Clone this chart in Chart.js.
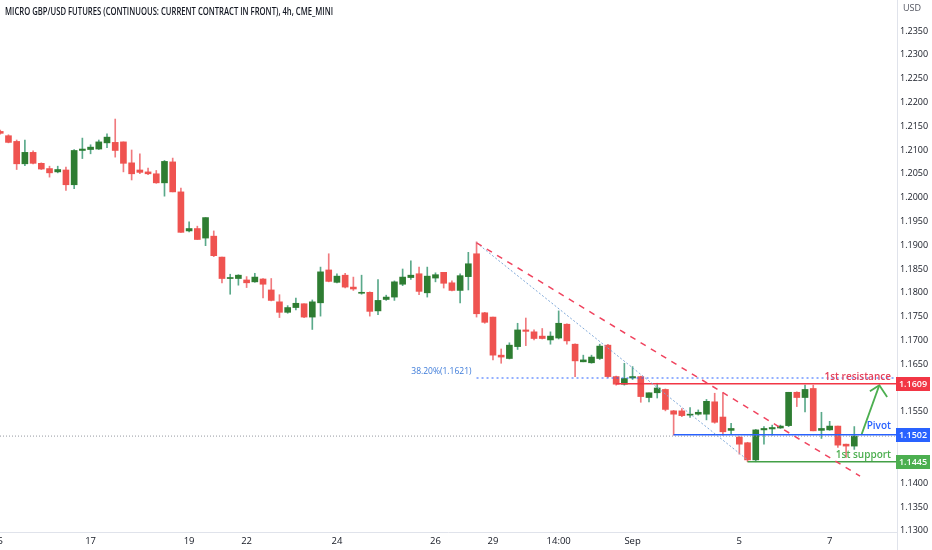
<!DOCTYPE html>
<html lang="en">
<head>
    <meta charset="UTF-8">
    <title>Micro GBP/USD Futures 4h</title>
    <script src="https://cdn.jsdelivr.net/npm/chart.js"></script>
    <style>
        html, body { margin: 0; padding: 0; background: #fff; }
        #wrap { width: 932px; height: 550px; }
    </style>
</head>
<body>
<div id="wrap"><canvas id="chart" width="932" height="550"></canvas></div>
<script>
    // 4h candles (index 0 is the half-cut one at the left edge)
    const openP  = [1.2139, 1.2130, 1.2118, 1.2071, 1.2095, 1.2072, 1.2061, 1.2054, 1.2058, 1.2027,
                    1.2099, 1.2101, 1.2102, 1.2115, 1.2116, 1.2117, 1.2073, 1.2058, 1.2054, 1.2050,
                    1.2031, 1.2075, 1.2012, 1.1930, 1.1935, 1.1915, 1.1919, 1.1875, 1.1830, 1.1830,
                    1.1827, 1.1823, 1.1829, 1.1806, 1.1781, 1.1759, 1.1769, 1.1777, 1.1749, 1.1779,
                    1.1848, 1.1822, 1.1837, 1.1812, 1.1799, 1.1801, 1.1762, 1.1786, 1.1791, 1.1818,
                    1.1832, 1.1840, 1.1800, 1.1831, 1.1843, 1.1821, 1.1805, 1.1834, 1.1882, 1.1758,
                    1.1749, 1.1669, 1.1662, 1.1687, 1.1722, 1.1718, 1.1709, 1.1701, 1.1705, 1.1734,
                    1.1692, 1.1655, 1.1653, 1.1662, 1.1690, 1.1624, 1.1608, 1.1621, 1.1624, 1.1580,
                    1.1590, 1.1597, 1.1552, 1.1552, 1.1543, 1.1545, 1.1545, 1.1571, 1.1539, 1.1511,
                    1.1497, 1.1485, 1.1449, 1.1512, 1.1514, 1.1516, 1.1521, 1.1591, 1.1580, 1.1599,
                    1.1511, 1.1512, 1.1520, 1.1482, 1.1478];
    const highP  = [1.2142, 1.2132, 1.2121, 1.2121, 1.2098, 1.2073, 1.2066, 1.2066, 1.2064, 1.2101,
                    1.2125, 1.2111, 1.2121, 1.2134, 1.2165, 1.2117, 1.2100, 1.2092, 1.2062, 1.2057,
                    1.2078, 1.2083, 1.2020, 1.1949, 1.1940, 1.1958, 1.1930, 1.1875, 1.1839, 1.1838,
                    1.1834, 1.1841, 1.1830, 1.1830, 1.1796, 1.1773, 1.1789, 1.1777, 1.1785, 1.1854,
                    1.1882, 1.1840, 1.1841, 1.1833, 1.1837, 1.1802, 1.1828, 1.1795, 1.1825, 1.1850,
                    1.1867, 1.1854, 1.1854, 1.1842, 1.1843, 1.1825, 1.1840, 1.1885, 1.1907, 1.1759,
                    1.1749, 1.1682, 1.1695, 1.1736, 1.1747, 1.1722, 1.1725, 1.1718, 1.1762, 1.1735,
                    1.1693, 1.1669, 1.1669, 1.1692, 1.1692, 1.1625, 1.1652, 1.1645, 1.1625, 1.1590,
                    1.1610, 1.1598, 1.1553, 1.1557, 1.1559, 1.1554, 1.1576, 1.1589, 1.1590, 1.1526,
                    1.1498, 1.1486, 1.1513, 1.1519, 1.1522, 1.1522, 1.1591, 1.1592, 1.1606, 1.1606,
                    1.1549, 1.1530, 1.1520, 1.1482, 1.1519];
    const lowP   = [1.2133, 1.2115, 1.2059, 1.2067, 1.2071, 1.2059, 1.2043, 1.2052, 1.2015, 1.2019,
                    1.2082, 1.2092, 1.2101, 1.2105, 1.2085, 1.2054, 1.2037, 1.2050, 1.2048, 1.2030,
                    1.2003, 1.2012, 1.1927, 1.1928, 1.1912, 1.1899, 1.1876, 1.1821, 1.1797, 1.1816,
                    1.1811, 1.1822, 1.1789, 1.1783, 1.1748, 1.1757, 1.1764, 1.1748, 1.1723, 1.1751,
                    1.1823, 1.1821, 1.1810, 1.1805, 1.1797, 1.1751, 1.1754, 1.1784, 1.1784, 1.1815,
                    1.1828, 1.1796, 1.1791, 1.1823, 1.1810, 1.1804, 1.1779, 1.1806, 1.1749, 1.1736,
                    1.1659, 1.1652, 1.1661, 1.1681, 1.1689, 1.1701, 1.1703, 1.1692, 1.1703, 1.1692,
                    1.1624, 1.1655, 1.1652, 1.1660, 1.1622, 1.1606, 1.1606, 1.1618, 1.1570, 1.1571,
                    1.1579, 1.1552, 1.1501, 1.1540, 1.1538, 1.1543, 1.1533, 1.1526, 1.1501, 1.1503,
                    1.1461, 1.1445, 1.1445, 1.1482, 1.1501, 1.1515, 1.1519, 1.1561, 1.1550, 1.1510,
                    1.1494, 1.1511, 1.1475, 1.1454, 1.1471];
    const closeP = [1.2135, 1.2116, 1.2071, 1.2095, 1.2072, 1.2060, 1.2052, 1.2059, 1.2027, 1.2099,
                    1.2102, 1.2106, 1.2117, 1.2127, 1.2099, 1.2072, 1.2050, 1.2053, 1.2050, 1.2031,
                    1.2076, 1.2012, 1.1927, 1.1935, 1.1912, 1.1958, 1.1878, 1.1830, 1.1831, 1.1837,
                    1.1821, 1.1833, 1.1818, 1.1784, 1.1759, 1.1769, 1.1778, 1.1749, 1.1781, 1.1844,
                    1.1824, 1.1835, 1.1812, 1.1808, 1.1800, 1.1761, 1.1784, 1.1791, 1.1823, 1.1833,
                    1.1837, 1.1803, 1.1835, 1.1838, 1.1820, 1.1805, 1.1836, 1.1861, 1.1756, 1.1738,
                    1.1669, 1.1665, 1.1690, 1.1722, 1.1719, 1.1704, 1.1704, 1.1709, 1.1736, 1.1699,
                    1.1657, 1.1659, 1.1665, 1.1688, 1.1624, 1.1608, 1.1620, 1.1624, 1.1582, 1.1590,
                    1.1600, 1.1555, 1.1545, 1.1542, 1.1545, 1.1549, 1.1572, 1.1528, 1.1508, 1.1515,
                    1.1482, 1.1449, 1.1512, 1.1515, 1.1517, 1.1520, 1.1591, 1.1580, 1.1597, 1.1510,
                    1.1515, 1.1520, 1.1480, 1.1478, 1.1499];

    // time axis labels sit on these candle indices
    const tickIdx  = [0, 11, 23, 30, 41, 53, 60, 68, 77, 90, 101];
    const tickText = ['5', '17', '19', '22', '24', '26', '29', '14:00', 'Sep', '5', '7'];

    // levels drawn on the chart
    const resistance = 1.1609;
    const pivot = 1.1502;
    const support = 1.1445;
    const fib382 = 1.1621;
    const levelStart = { resistance: 75, pivot: 82, support: 91, fib: 58 };

    // trend lines and the arrow, as [candle index, price]
    const redTrend  = [[58, 1.1905], [104.7, 1.1415]];
    const blueTrend = [[58, 1.1905], [91, 1.1449]];
    const arrowShaft = [[104.9, 1.1503], [107.05, 1.1606]];
    const arrowHead  = [[105.9, 1.1593], [107.05, 1.1606], [108.0, 1.1581]];

    const X_MIN = -0.03, X_MAX = 109.2;
    const Y_MIN = 1.12975, Y_MAX = 1.24151;

    const GREEN = '#2e7d32', GREEN_WICK = '#5aa98a';
    const RED = '#ef5350', RED_WICK = '#f07a7e';

    const up = openP.map((o, i) => closeP[i] >= o);
    const pts = arr => arr.map(p => ({ x: p[0], y: p[1] }));
    const hLine = (from, y) => [{ x: from, y: y }, { x: X_MAX, y: y }];

    function lineSet(data, color, width, dash) {
        return {
            type: 'line', data: data, borderColor: color, borderWidth: width,
            borderDash: dash || [], pointRadius: 0, fill: false, tension: 0, order: 0
        };
    }

    // texts, price tags and separators drawn over the chart
    const overlay = {
        id: 'overlay',
        afterDraw(chart) {
            const ctx = chart.ctx, a = chart.chartArea;
            const xs = chart.scales.x, ys = chart.scales.y;
            ctx.save();
            ctx.strokeStyle = '#e0e3eb';
            ctx.lineWidth = 1;
            ctx.beginPath();
            ctx.moveTo(a.right + 0.5, 0); ctx.lineTo(a.right + 0.5, 550);
            ctx.moveTo(0, a.bottom + 0.5); ctx.lineTo(a.right, a.bottom + 0.5);
            ctx.stroke();

            ctx.fillStyle = '#131722';
            ctx.font = '600 10px "Open Sans"';
            ctx.textBaseline = 'middle';
            ctx.textAlign = 'left';
            ctx.fillText('MICRO GBP/USD FUTURES (CONTINUOUS: CURRENT CONTRACT IN FRONT), 4h, CME_MINI', 5, 12, 328);

            ctx.fillStyle = '#50535e';
            ctx.font = '9px "Open Sans"';
            ctx.fillText('USD', a.right + 6, 8);

            ctx.textAlign = 'right';
            ctx.font = '8.5px "Open Sans"';
            ctx.fillStyle = '#3d7bd9';
            ctx.fillText('38.20%(' + fib382.toFixed(4) + ')', xs.getPixelForValue(levelStart.fib) - 5, ys.getPixelForValue(fib382) - 6);

            ctx.font = '600 10px "Open Sans"';
            ctx.fillStyle = '#e5405a';
            ctx.fillText('1st resistance', a.right - 6, ys.getPixelForValue(resistance) - 7);
            ctx.fillStyle = '#2962ff';
            ctx.fillText('Pivot', a.right - 6, ys.getPixelForValue(pivot) - 8);
            ctx.fillStyle = '#4caf50';
            ctx.fillText('1st support', a.right - 6, ys.getPixelForValue(support) - 7);

            const tags = [[resistance, '#f23645'], [pivot, '#2962ff'], [support, '#4caf50']];
            ctx.textAlign = 'center';
            ctx.font = '600 9px "Open Sans"';
            tags.forEach(t => {
                const y = Math.round(ys.getPixelForValue(t[0]));
                ctx.fillStyle = t[1];
                ctx.fillRect(a.right - 1, y - 7, 34, 14);
                ctx.fillStyle = '#ffffff';
                ctx.fillText(t[0].toFixed(4), a.right + 16, y);
            });
            ctx.restore();
        }
    };

    const ctx = document.getElementById('chart').getContext('2d');
    new Chart(ctx, {
        type: 'bar',
        data: {
            datasets: [
                lineSet(pts(redTrend), '#f0445f', 1.5, [6, 6]),
                lineSet(pts(blueTrend), '#7fa8d8', 1, [2, 2]),
                lineSet([{ x: X_MIN, y: closeP[closeP.length - 1] }, { x: X_MAX, y: closeP[closeP.length - 1] }], '#9598a1', 1, [1, 2]),
                lineSet(hLine(levelStart.fib, fib382), '#2962ff', 1, [2, 3]),
                lineSet(hLine(levelStart.resistance, resistance), '#f23645', 1.5),
                lineSet(hLine(levelStart.pivot, pivot), '#2962ff', 1.5),
                lineSet(hLine(levelStart.support, support), '#43a047', 1.5),
                lineSet(pts(arrowShaft), '#4caf50', 1.8),
                lineSet(pts(arrowHead), '#4caf50', 1.8),
                {
                    label: 'body',
                    data: openP.map((o, i) => ({ x: i, y: [o, closeP[i]] })),
                    backgroundColor: up.map(u => u ? GREEN : RED),
                    barThickness: 6, minBarLength: 1, grouped: false, order: 1
                },
                {
                    label: 'wick',
                    data: lowP.map((l, i) => ({ x: i, y: [l, highP[i]] })),
                    backgroundColor: up.map(u => u ? GREEN_WICK : RED_WICK),
                    barThickness: 1, grouped: false, order: 2
                }
            ]
        },
        options: {
            responsive: false,
            animation: false,
            layout: { padding: 0 },
            plugins: { legend: { display: false }, tooltip: { enabled: false } },
            scales: {
                x: {
                    type: 'linear', min: X_MIN, max: X_MAX, offset: false,
                    grid: { display: false, drawTicks: false }, border: { display: false },
                    afterBuildTicks: s => { s.ticks = tickIdx.map(v => ({ value: v })); },
                    afterFit: s => { s.height = 18; s.paddingLeft = 0; s.paddingRight = 0; },
                    ticks: {
                        autoSkip: false, maxRotation: 0, padding: 4,
                        color: '#131722', font: { family: 'Open Sans', size: 9.5 },
                        callback: v => tickText[tickIdx.indexOf(v)]
                    }
                },
                y: {
                    type: 'linear', position: 'right', min: Y_MIN, max: Y_MAX,
                    grid: { display: false, drawTicks: false }, border: { display: false },
                    afterFit: s => { s.width = 35; s.paddingTop = 0; s.paddingBottom = 0; },
                    ticks: {
                        stepSize: 0.005, includeBounds: false, maxTicksLimit: 100, autoSkip: false,
                        padding: 3, color: '#131722', font: { family: 'Open Sans', size: 9 },
                        callback: v => v > 1.2375 ? '' : v.toFixed(4)
                    }
                }
            }
        },
        plugins: [overlay]
    });
</script>
</body>
</html>
